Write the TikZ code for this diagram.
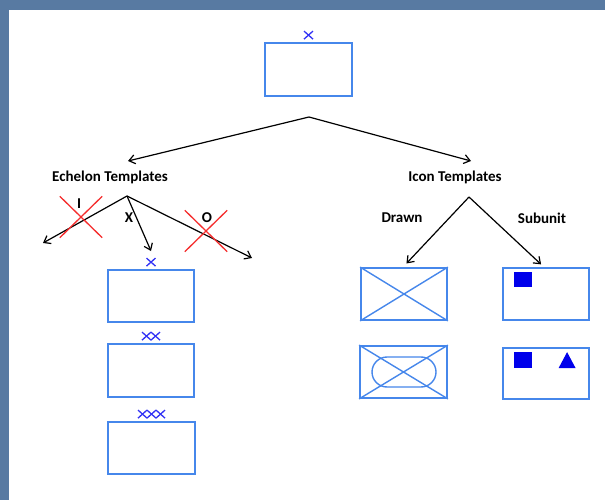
\documentclass[tikz,border=0pt]{standalone}
\usepackage{fontspec}
\setmainfont{Carlito}
\usepackage{tikz}
\usetikzlibrary{arrows.meta,calc,shapes.misc}

\definecolor{slide}{RGB}{88,122,162}
\definecolor{boxblue}{RGB}{70,135,235}
\definecolor{markblue}{RGB}{50,50,245}
\definecolor{solidblue}{RGB}{0,0,235}
\definecolor{strike}{RGB}{245,45,45}

\tikzset{
  unitbox/.style={draw=boxblue, line width=1.8pt, rectangle, inner sep=0pt,
    minimum width=86pt, minimum height=52pt},
  lbl/.style={font=\fontsize{15}{18}\selectfont\bfseries, inner sep=1pt},
  branch/.style={line width=1.2pt, -{Straight Barb[length=6pt, width=9pt, line width=1.2pt]}},
  strikeout/.style={cross out, draw=strike, line width=1.3pt, minimum width=41pt, minimum height=40pt},
  echelon/.style={draw=markblue, line width=1.3pt},
  diag/.style={draw=boxblue, line width=1.4pt}
}

% one echelon tick: a small x centred on #1
\newcommand{\tick}[1]{\draw[echelon] ($#1+(-4.5,-4)$) -- ++(9,8) ($#1+(4.5,-4)$) -- ++(-9,8);}

\begin{document}
\begin{tikzpicture}[x=1pt, y=-1pt]
    \useasboundingbox (0,0) rectangle (605,500);
    \fill[slide] (0,0) rectangle (605,500);
    \fill[white] (9,10) rectangle (605,500);

    % top unit
    \node[unitbox, minimum width=87pt, minimum height=53pt] (top) at (308.5,69.5) {};
    \tick{(top.north)+(0,-7)}
    \coordinate (split) at (309,117);

    \node[lbl] (echelon) at (110,177) {Echelon Templates};
    \node[lbl] (icon) at (455,177) {Icon Templates};
    \coordinate (etip) at (128,161);
    \coordinate (itip) at (471,161);
    \draw[branch] (split) -- (etip);
    \draw[branch] (split) -- (itip);

    % echelon branch
    \coordinate (esplit) at (127,196);
    \coordinate (eleft) at (43,243);
    \coordinate (emid) at (151,251);
    \coordinate (eright) at (252,258);
    \draw[branch] (esplit) -- (eleft);
    \draw[branch] (esplit) -- (emid);
    \draw[branch] (esplit) -- (eright);
    \node[lbl] (ltrI) at (79,204) {I};
    \node[lbl] (ltrX) at (129,218) {X};
    \node[lbl] (ltrO) at (207,218) {O};
    \node[strikeout] (noI) at (81,217) {};
    \node[strikeout] (noO) at (206,231) {};

    \node[unitbox] (e1) at (151,296) {};
    \node[unitbox, minimum height=53pt] (e2) at (151,370.5) {};
    \node[unitbox, minimum width=87pt] (e3) at (151.5,448) {};
    \tick{(e1.north)+(0,-7)}
    \foreach \dx in {-4.5,4.5} {\tick{(e2.north)+(\dx,-7)}}
    \foreach \dx in {-9,0,9} {\tick{(e3.north)+(\dx,-7)}}

    % icon branch
    \coordinate (isplit) at (469,197);
    \node[lbl] (drawn) at (402,218) {Drawn};
    \node[lbl] (subunit) at (542,218) {Subunit};
    \node[unitbox] (d1) at (404,294) {};
    \node[unitbox, minimum width=87pt] (d2) at (403.5,372) {};
    \node[unitbox] (s1) at (546,294) {};
    \node[unitbox, minimum height=51pt] (s2) at (546,373.5) {};
    \draw[branch, shorten >=5pt] (isplit) -- ($(d1.north)+(-1,0)$);
    \draw[branch, shorten >=4pt] (isplit) -- ($(s1.north)+(-2,0)$);

    \draw[diag] (d1.north west) -- (d1.south east) (d1.north east) -- (d1.south west);
    \draw[diag] (d2.north west) -- (d2.south east) (d2.north east) -- (d2.south west);
    \node[rounded rectangle, draw=boxblue, line width=1.4pt, inner sep=0pt,
      minimum width=64pt, minimum height=30pt] (oval) at (404,372) {};

    \fill[solidblue] ($(s1.north west)+(12,5)$) rectangle ++(18,15);
    \fill[solidblue] ($(s2.north west)+(12,5)$) rectangle ++(18,16);
    \fill[solidblue] ($(s2.north west)+(65,5)$) -- ++(8.5,16) -- ++(-17,0) -- cycle;
\end{tikzpicture}
\end{document}
